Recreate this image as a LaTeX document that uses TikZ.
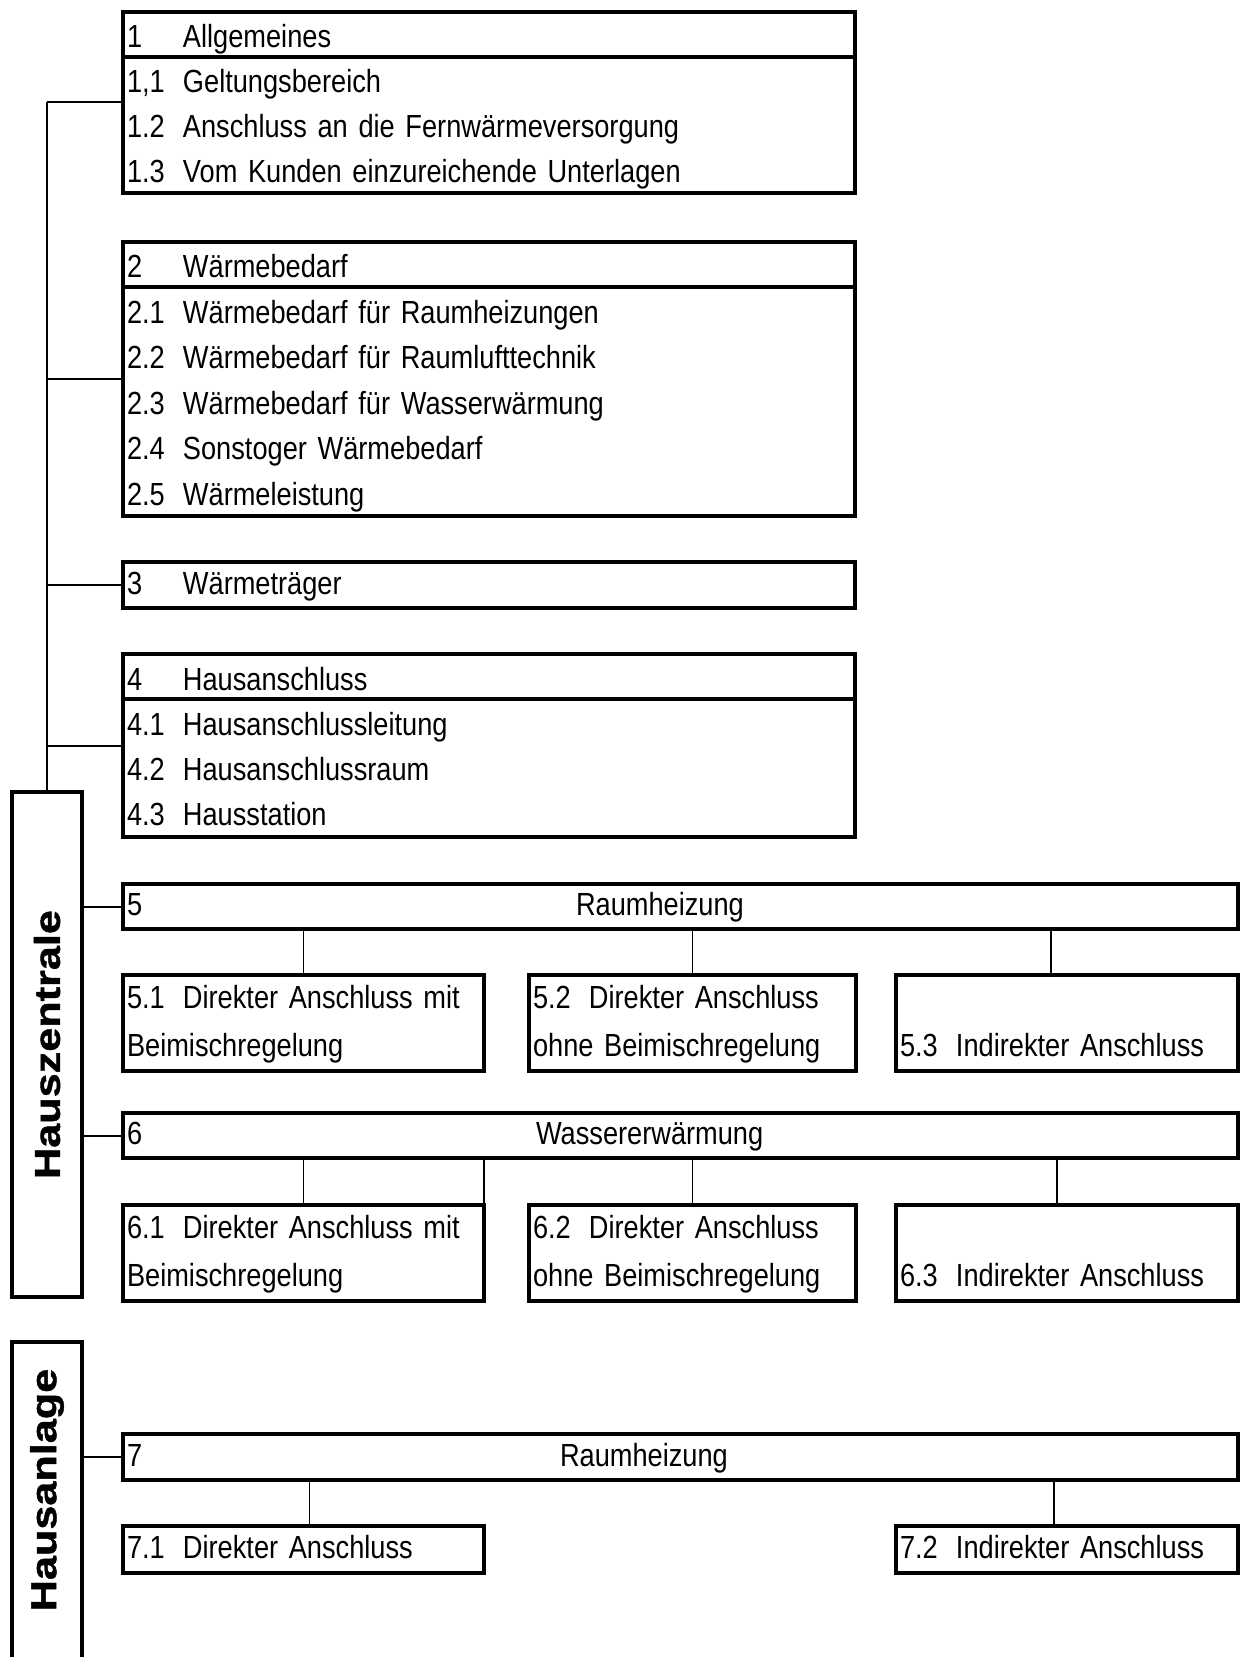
\documentclass[tikz,border=0pt]{standalone}
\usepackage{fontspec}
\setmainfont{Liberation Sans}
\newfontfamily\narrowfont{Liberation Sans}[FakeStretch=0.85, WordSpace=0.85]
\newfontfamily\widefont{Liberation Sans}[FakeStretch=1.2, FakeBold=1.2]
\usepackage{tikz}
\usetikzlibrary{positioning}
\newcommand{\nr}[3][28pt]{\makebox[#1][l]{#2}#3}

\begin{document}
\begin{tikzpicture}[x=0.5pt, y=-0.5pt,
    frame/.style={draw, line width=2pt, outer sep=0pt, inner xsep=2pt, inner ysep=0pt,
      anchor=north west, align=left},
    box/.style={frame, font=\narrowfont\fontsize{16}{22.5}\selectfont,
      execute at begin node=\strut, execute at end node={\rule[-3.5pt]{0pt}{0pt}}},
    leaf/.style={frame, font=\narrowfont\fontsize{16}{24}\selectfont,
      execute at begin node=\strut, execute at end node=\strut},
    side/.style={draw, line width=2pt, outer sep=0pt, inner sep=0pt, anchor=north west,
      minimum width=35pt, font=\widefont\bfseries\fontsize{18}{20}\selectfont},
    link/.style={line width=1pt},
    twig/.style={line width=0.7pt},
    rule/.style={line width=2pt}]
  \useasboundingbox (0,0) rectangle (1240,1657);

  \node[box, text width=362pt, minimum height=90.5pt] (sec1) at (123,12)
    {\nr{1}{Allgemeines}\\ \nr{1,1}{Geltungsbereich}\\
     \nr{1.2}{Anschluss an die Fernwärmeversorgung}\\ \nr{1.3}{Vom Kunden einzureichende Unterlagen}};
  \node[box, text width=362pt, minimum height=137pt, font=\narrowfont\fontsize{16}{22.8}\selectfont] (sec2) at (123,242)
    {\nr{2}{Wärmebedarf}\\ \nr{2.1}{Wärmebedarf für Raumheizungen}\\
     \nr{2.2}{Wärmebedarf für Raumlufttechnik}\\ \nr{2.3}{Wärmebedarf für Wasserwärmung}\\
     \nr{2.4}{Sonstoger Wärmebedarf}\\ \nr{2.5}{Wärmeleistung}};
  \node[box, text width=362pt, minimum height=23pt] (sec3) at (123,562) {\nr{3}{Wärmeträger}};
  \node[box, text width=362pt, minimum height=91.5pt] (sec4) at (123,654)
    {\nr{4}{Hausanschluss}\\ \nr{4.1}{Hausanschlussleitung}\\
     \nr{4.2}{Hausanschlussraum}\\ \nr{4.3}{Hausstation}};
  \foreach \s in {sec1,sec2,sec4}
    \draw[rule] ([yshift=-22.5pt]\s.north west) -- ([yshift=-22.5pt]\s.north east);

  \node[side, minimum height=252.5pt] (zentrale) at (12,792) {\rotatebox{90}{Hauszentrale}};
  \node[side, minimum height=200pt] (anlage) at (12,1342) {};
  \node[font=\widefont\bfseries\fontsize{18}{20}\selectfont, rotate=90] (anlagetext) at (47,1490) {Hausanlage};

  \node[box, text width=553.5pt, minimum height=22.5pt] (sec5) at (123,884) {\nr[224.5pt]{5}{Raumheizung}};
  \node[leaf, text width=176.5pt, minimum height=46pt] (s51) at (123,975)
    {\nr{5.1}{Direkter Anschluss mit}\\Beimischregelung};
  \node[leaf, text width=159.5pt, minimum height=46pt] (s52) at (529,975)
    {\nr{5.2}{Direkter Anschluss}\\ohne Beimischregelung};
  \node[leaf, text width=167pt, minimum height=46pt] (s53) at (896,975)
    {\mbox{}\\ \nr{5.3}{Indirekter Anschluss}};

  \node[box, text width=553.5pt, minimum height=22.5pt] (sec6) at (123,1113) {\nr[204.5pt]{6}{Wassererwärmung}};
  \node[leaf, text width=176.5pt, minimum height=45pt] (s61) at (123,1205)
    {\nr{6.1}{Direkter Anschluss mit}\\Beimischregelung};
  \node[leaf, text width=159.5pt, minimum height=45pt] (s62) at (529,1205)
    {\nr{6.2}{Direkter Anschluss}\\ohne Beimischregelung};
  \node[leaf, text width=167pt, minimum height=45pt] (s63) at (896,1205)
    {\mbox{}\\ \nr{6.3}{Indirekter Anschluss}};

  \node[box, text width=553.5pt, minimum height=23pt] (sec7) at (123,1434) {\nr[216.5pt]{7}{Raumheizung}};
  \node[box, text width=176.5pt, minimum height=23.5pt] (s71) at (123,1526) {\nr{7.1}{Direkter Anschluss}};
  \node[box, text width=167pt, minimum height=23.5pt] (s72) at (896,1526) {\nr{7.2}{Indirekter Anschluss}};

  \draw[link] (zentrale.north) -- (zentrale.north |- sec1.west);
  \foreach \s in {sec1,sec2,sec3,sec4}
    \draw[link] (zentrale.north |- \s.west) -- (\s.west);
  \foreach \s in {sec5,sec6}
    \draw[link] (zentrale.east |- \s.west) -- (\s.west);
  \draw[link] (anlage.east |- sec7.west) -- (sec7.west);

  \foreach \c/\p/\d in {s51/sec5/0, s52/sec5/0, s53/sec5/-8, s61/sec6/0, s62/sec6/0, s63/sec6/-5, s71/sec7/3, s72/sec7/-6.5}
    \draw[twig] ([xshift=\d pt]\c.north) -- ([xshift=\d pt]\c.north |- \p.south);
  \draw[twig] (s61.north east) -- (s61.north east |- sec6.south);
\end{tikzpicture}
\end{document}
